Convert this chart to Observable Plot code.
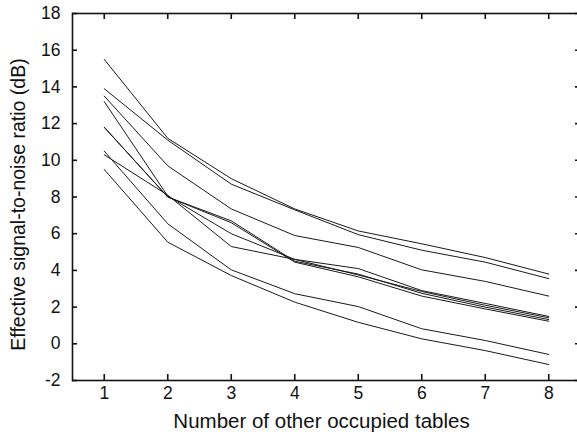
<!DOCTYPE html>
<html>
<head>
<meta charset="utf-8">
<script src="https://cdn.jsdelivr.net/npm/d3@7"></script>
<script src="https://cdn.jsdelivr.net/npm/@observablehq/plot@0.6"></script>
<style>
  html, body { margin: 0; padding: 0; background: #fff; overflow: hidden; }
  #chart svg { display: block; }
</style>
</head>
<body>
<div id="chart"></div>
<script>
// x positions: number of other occupied tables
const tables = [1, 2, 3, 4, 5, 6, 7, 8];
// effective SNR (dB) series
const seriesA = [15.5, 11.2, 9.0, 7.35, 6.15, 5.45, 4.7, 3.8];
const seriesB = [13.9, 11.1, 8.7, 7.3, 5.95, 5.1, 4.45, 3.55];
const seriesC = [13.5, 9.7, 7.35, 5.9, 5.25, 4.03, 3.4, 2.6];
const seriesD = [13.2, 8.05, 6.0, 4.6, 3.75, 2.85, 2.1, 1.42];
const seriesE = [11.8, 8.0, 6.7, 4.5, 3.8, 2.75, 2.0, 1.32];
const seriesF = [11.8, 8.0, 6.6, 4.45, 3.65, 2.6, 1.9, 1.23];
const seriesG = [10.3, 8.1, 5.3, 4.6, 4.1, 2.9, 2.2, 1.49];
const seriesH = [10.5, 6.54, 4.03, 2.73, 2.03, 0.82, 0.18, -0.58];
const seriesI = [9.5, 5.54, 3.72, 2.27, 1.17, 0.27, -0.37, -1.13];
const allSeries = [seriesA, seriesB, seriesC, seriesD, seriesE, seriesF, seriesG, seriesH, seriesI];

const xTicks = [1, 2, 3, 4, 5, 6, 7, 8];
const yTicks = [-2, 0, 2, 4, 6, 8, 10, 12, 14, 16, 18];
const xTitle = "Number of other occupied tables";
const yTitle = "Effective signal-to-noise ratio (dB)";

const rows = allSeries.flatMap((vals, i) => vals.map((v, j) => ({series: i, x: tables[j], y: v})));

const W = 577, H = 439;
const mL = 72, mR = -3, mT = 13, mB = 59;
const innerW = W - mL - mR, innerH = H - mT - mB;

const chart = Plot.plot({
  width: W,
  height: H,
  marginLeft: mL,
  marginRight: mR,
  marginTop: mT,
  marginBottom: mB,
  style: {fontFamily: "'Liberation Sans', Arial, Helvetica, sans-serif", background: "#fff", overflow: "hidden", color: "#111"},
  x: {domain: [0.5, 8.5], axis: null},
  y: {domain: [-2, 18], axis: null},
  marks: [
    Plot.line(rows, {x: "x", y: "y", z: "series", stroke: "#1a1a1a", strokeWidth: 1}),
    Plot.frame({stroke: "#111", strokeWidth: 1.6}),
    Plot.tickX(xTicks, {x: d => d, insetTop: innerH - 6, stroke: "#111", strokeWidth: 1.6}),
    Plot.tickX(xTicks, {x: d => d, insetBottom: innerH - 6, stroke: "#111", strokeWidth: 1.6}),
    Plot.tickY(yTicks, {y: d => d, insetRight: innerW - 5, stroke: "#111", strokeWidth: 1.6}),
    Plot.tickY(yTicks, {y: d => d, insetLeft: innerW - 5, stroke: "#111", strokeWidth: 1.6}),
    Plot.axisX(xTicks, {anchor: "bottom", tickSize: 0, tickPadding: 6, fontSize: 17.5, label: null, tickFormat: d => String(d)}),
    Plot.axisY(yTicks, {anchor: "left", tickSize: 0, tickPadding: 12, fontSize: 17.5, label: null, tickFormat: d => String(d)}),
    Plot.text([xTitle], {text: d => d, frameAnchor: "bottom", lineAnchor: "middle", dx: -5, dy: 41, fontSize: 20.5, fill: "#111"}),
    Plot.text([yTitle], {text: d => d, frameAnchor: "left", textAnchor: "middle", rotate: -90, dx: -54, dy: 7.5, fontSize: 19.5, fill: "#111"})
  ]
});
document.getElementById("chart").appendChild(chart);
</script>
</body>
</html>
